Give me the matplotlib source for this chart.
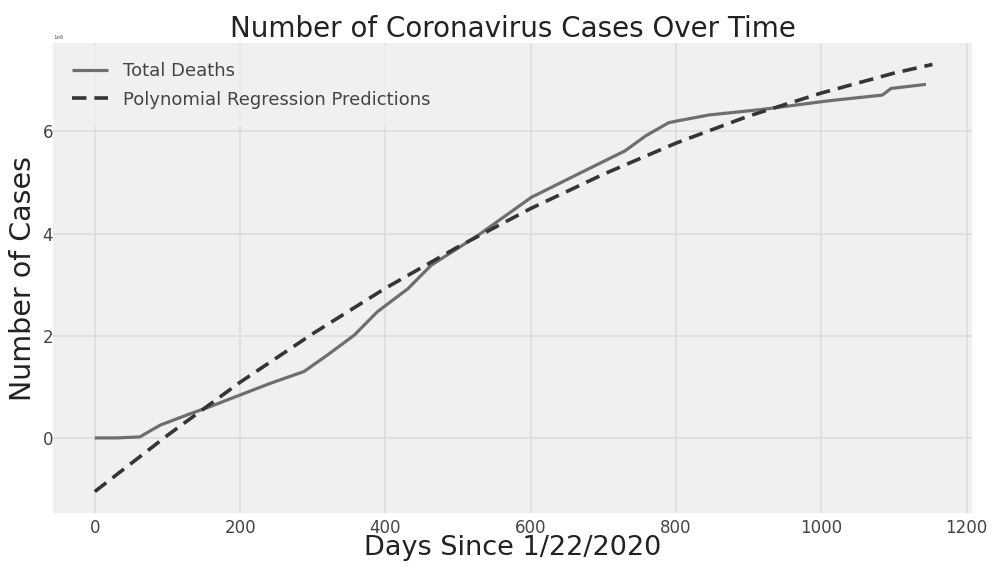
import matplotlib
matplotlib.use("Agg")
import matplotlib.pyplot as plt

# Cumulative deaths (millions) by days since 1/22/2020
days = [0, 30, 62, 90, 127, 160, 200, 240, 288, 320, 357, 389, 431, 463, 527,
        601, 666, 730, 758, 790, 804, 845, 919, 1011, 1084, 1096, 1144]
deaths = [0.0, 0.0, 0.02, 0.25, 0.45, 0.62, 0.84, 1.06, 1.30, 1.62, 2.01, 2.47,
          2.92, 3.38, 3.96, 4.71, 5.17, 5.62, 5.91, 6.17, 6.21, 6.32, 6.43,
          6.60, 6.71, 6.84, 6.92]

# Polynomial regression predictions (millions)
pred_days = [0, 100, 200, 300, 400, 500, 600, 700, 800, 900, 1000, 1100, 1153]
pred_vals = [-1.05, 0.05, 1.09, 2.04, 2.93, 3.74, 4.49, 5.16, 5.77, 6.30,
             6.75, 7.14, 7.31]

x_ticks = [0, 200, 400, 600, 800, 1000, 1200]
y_ticks = [0, 2, 4, 6]

fig = plt.figure(figsize=(9.93, 5.67), dpi=100, facecolor="white")
ax = fig.add_axes([0.0534, 0.0952, 0.9255, 0.829])
ax.set_facecolor("#f0f0f0")
for s in ax.spines.values():
    s.set_visible(False)

ax.plot(days, [v * 1e6 for v in deaths], color="#6e6e6e", lw=2.3,
        label="Total Deaths", solid_capstyle="butt")
ax.plot(pred_days, [v * 1e6 for v in pred_vals], color="#353535", lw=2.6,
        ls=(0, (4, 2.2)), label="Polynomial Regression Predictions")

ax.set_xticks(x_ticks)
ax.set_yticks([v * 1e6 for v in y_ticks])
ax.set_xlim(-57.5, 1207.5)
ax.set_ylim(-1.47e6, 7.73e6)
ax.grid(True, color="#dcdcdc", lw=1.1)
ax.set_axisbelow(True)
ax.tick_params(length=0, labelsize=12, colors="#444444")
ax.tick_params(axis="x", pad=4)
ax.tick_params(axis="y", pad=0)
ax.yaxis.get_offset_text().set_fontsize(4)
ax.yaxis.get_offset_text().set_color("#555555")

ax.set_title("Number of Coronavirus Cases Over Time", fontsize=20,
             color="#222222", pad=3)
ax.set_xlabel("Days Since 1/22/2020", fontsize=19.5, color="#222222", labelpad=-1)
ax.set_ylabel("Number of Cases", fontsize=20.5, color="#222222", labelpad=4)

leg = ax.legend(loc="upper left", fontsize=13, frameon=True,
                facecolor="#f0f0f0", edgecolor="#f0f0f0", framealpha=0.8,
                handlelength=2.0, borderaxespad=0.15, borderpad=0.9,
                labelspacing=0.6)
for t in leg.get_texts():
    t.set_color("#444444")

fig.savefig("out.png", dpi=100, facecolor="white")
